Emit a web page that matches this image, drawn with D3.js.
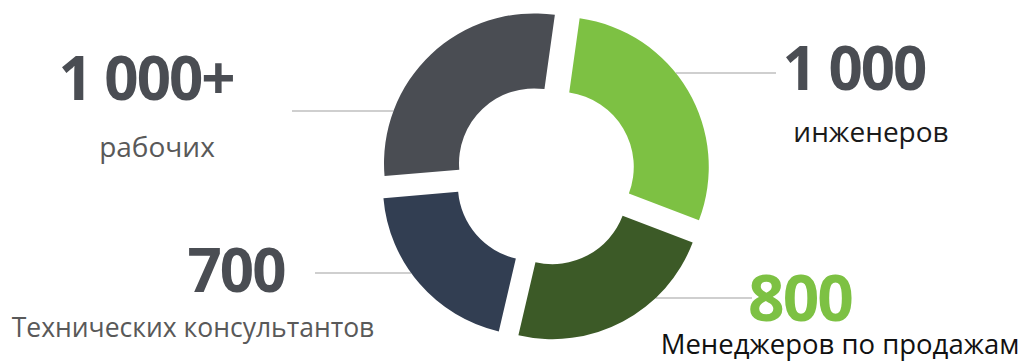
<!DOCTYPE html>
<html>
<head>
<meta charset="utf-8">
<script src="https://cdn.jsdelivr.net/npm/d3@7"></script>
<style>
  html, body { margin: 0; padding: 0; background: #ffffff; }
  svg { display: block; }
</style>
</head>
<body>
<svg id="chart" width="1032" height="364"></svg>
<script>
// Staff structure, in the order the ring is drawn (clockwise)
const categories = ["инженеров", "Менеджеров по продажам", "Технических консультантов", "рабочих"];
const values = [1000, 800, 700, 1000];
const valueLabels = ["1 000", "800", "700", "1 000+"];

// Presentation
const sliceColors = ["#7dc143", "#3c5a27", "#323e52", "#4a4d53"];
const valueColors = ["#4a4d53", "#7dc143", "#4a4d53", "#4a4d53"];
const nameColors = ["#1a1a1a", "#111111", "#595959", "#595959"];

// Callout layout per slice: side of the ring, leader y, value & caption anchors
const callouts = [
  { side: "right", lineY: 73,  lineEnd: 776, vx: 854, vy: 90,  vSize: 60, nx: 871, ny: 142, nSize: 28 },
  { side: "right", lineY: 298, lineEnd: 752, vx: 800, vy: 321, vSize: 64, nx: 840, ny: 354, nSize: 27.5 },
  { side: "left",  lineY: 273, lineEnd: 315, vx: 236, vy: 292, vSize: 60, nx: 193, ny: 337, nSize: 26.5 },
  { side: "left",  lineY: 111, lineEnd: 292, vx: 146, vy: 100, vSize: 60, nx: 157, ny: 157, nSize: 28 }
];

const W = 1032, H = 364;
const cx = 545, cy = 175;
const outerR = 150, innerR = 75, explode = 16;
const rotation = 8 * Math.PI / 180;

const svg = d3.select("#chart");

const pie = d3.pie()
  .sort(null)
  .value(d => d)
  .startAngle(rotation)
  .endAngle(rotation + 2 * Math.PI);

const arcs = pie(values);
const arc = d3.arc().innerRadius(innerR).outerRadius(outerR);

// exploded centre of every slice, pushed out along its mid angle
const centres = arcs.map(a => {
  const m = (a.startAngle + a.endAngle) / 2;
  return [cx + explode * Math.sin(m), cy - explode * Math.cos(m)];
});

// leader lines (under the slices), starting where they meet the outer rim
const leaders = svg.append("g").attr("class", "leaders");
arcs.forEach((a, i) => {
  const c = callouts[i];
  const [sx, sy] = centres[i];
  const dy = c.lineY - sy;
  const dx = Math.sqrt(Math.max(0, outerR * outerR - dy * dy));
  const x0 = c.side === "right" ? sx + dx : sx - dx;
  leaders.append("line")
    .attr("x1", x0).attr("y1", c.lineY)
    .attr("x2", c.lineEnd).attr("y2", c.lineY)
    .attr("stroke", "#bfbfbf")
    .attr("stroke-width", 1.6);
});

// ring slices
svg.append("g").attr("class", "slices")
  .selectAll("path")
  .data(arcs)
  .join("path")
  .attr("transform", (d, i) => `translate(${centres[i][0]},${centres[i][1]})`)
  .attr("d", arc)
  .attr("fill", (d, i) => sliceColors[i]);

// value figures
const labels = svg.append("g").attr("class", "labels")
  .attr("font-family", "'Open Sans', 'Noto Sans', sans-serif");

labels.selectAll("text.value")
  .data(valueLabels)
  .join("text")
  .attr("class", "value")
  .attr("x", (d, i) => callouts[i].vx)
  .attr("y", (d, i) => callouts[i].vy)
  .attr("text-anchor", "middle")
  .attr("font-weight", 700)
  .attr("font-size", (d, i) => callouts[i].vSize)
  .attr("letter-spacing", -2)
  .attr("fill", (d, i) => valueColors[i])
  .text(d => d);

// category captions
labels.selectAll("text.name")
  .data(categories)
  .join("text")
  .attr("class", "name")
  .attr("x", (d, i) => callouts[i].nx)
  .attr("y", (d, i) => callouts[i].ny)
  .attr("text-anchor", "middle")
  .attr("font-weight", 400)
  .attr("font-size", (d, i) => callouts[i].nSize)
  .attr("fill", (d, i) => nameColors[i])
  .text(d => d);
</script>
</body>
</html>
